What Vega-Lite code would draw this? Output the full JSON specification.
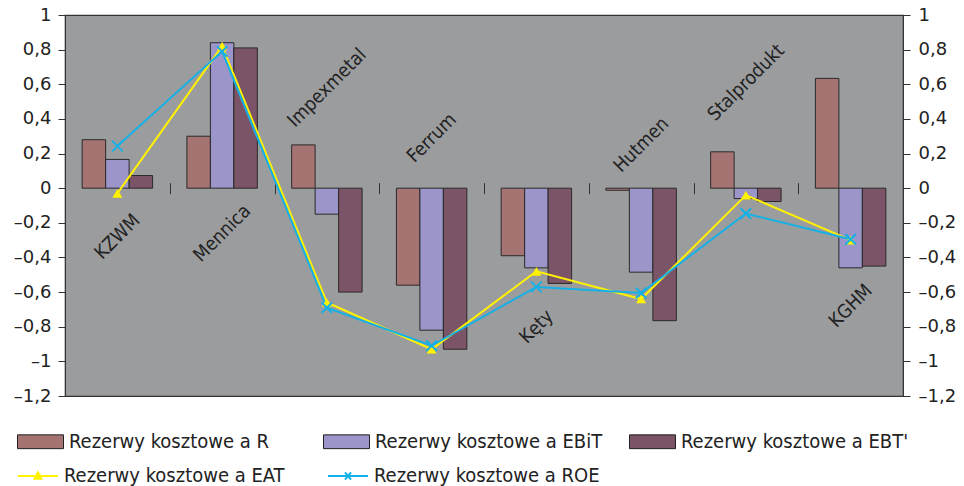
{
  "$schema": "https://vega.github.io/schema/vega-lite/v6.json",
  "width": 838,
  "height": 381,
  "autosize": {"type": "none"},
  "padding": {"left": 65, "top": 15, "right": 61, "bottom": 90},
  "background": "white",
  "config": {
    "view": {"fill": "#9B9C9E", "stroke": "#333333", "strokeWidth": 1.2},
    "axis": {"labelFont": "DejaVu Sans", "labelFontSize": 18, "labelColor": "#222222", "tickColor": "#333333", "domainColor": "#333333", "grid": false, "title": null},
    "legend": {"labelFont": "DejaVu Sans Condensed", "labelFontSize": 20, "labelColor": "#222222", "labelLimit": 400}
  },
  "datasets": {
    "bars": [
      {"cat": "KZWM", "series": "Rezerwy kosztowe a R", "value": 0.28},
      {"cat": "KZWM", "series": "Rezerwy kosztowe a EBiT", "value": 0.166},
      {"cat": "KZWM", "series": "Rezerwy kosztowe a EBT'", "value": 0.073},
      {"cat": "Mennica", "series": "Rezerwy kosztowe a R", "value": 0.30},
      {"cat": "Mennica", "series": "Rezerwy kosztowe a EBiT", "value": 0.84},
      {"cat": "Mennica", "series": "Rezerwy kosztowe a EBT'", "value": 0.81},
      {"cat": "Impexmetal", "series": "Rezerwy kosztowe a R", "value": 0.25},
      {"cat": "Impexmetal", "series": "Rezerwy kosztowe a EBiT", "value": -0.15},
      {"cat": "Impexmetal", "series": "Rezerwy kosztowe a EBT'", "value": -0.60},
      {"cat": "Ferrum", "series": "Rezerwy kosztowe a R", "value": -0.56},
      {"cat": "Ferrum", "series": "Rezerwy kosztowe a EBiT", "value": -0.82},
      {"cat": "Ferrum", "series": "Rezerwy kosztowe a EBT'", "value": -0.93},
      {"cat": "Kęty", "series": "Rezerwy kosztowe a R", "value": -0.39},
      {"cat": "Kęty", "series": "Rezerwy kosztowe a EBiT", "value": -0.46},
      {"cat": "Kęty", "series": "Rezerwy kosztowe a EBT'", "value": -0.55},
      {"cat": "Hutmen", "series": "Rezerwy kosztowe a R", "value": -0.012},
      {"cat": "Hutmen", "series": "Rezerwy kosztowe a EBiT", "value": -0.485},
      {"cat": "Hutmen", "series": "Rezerwy kosztowe a EBT'", "value": -0.765},
      {"cat": "Stalprodukt", "series": "Rezerwy kosztowe a R", "value": 0.21},
      {"cat": "Stalprodukt", "series": "Rezerwy kosztowe a EBiT", "value": -0.06},
      {"cat": "Stalprodukt", "series": "Rezerwy kosztowe a EBT'", "value": -0.077},
      {"cat": "KGHM", "series": "Rezerwy kosztowe a R", "value": 0.634},
      {"cat": "KGHM", "series": "Rezerwy kosztowe a EBiT", "value": -0.46},
      {"cat": "KGHM", "series": "Rezerwy kosztowe a EBT'", "value": -0.45}
    ],
    "lines": [
      {"cat": "KZWM", "series": "Rezerwy kosztowe a EAT", "value": -0.03},
      {"cat": "Mennica", "series": "Rezerwy kosztowe a EAT", "value": 0.82},
      {"cat": "Impexmetal", "series": "Rezerwy kosztowe a EAT", "value": -0.66},
      {"cat": "Ferrum", "series": "Rezerwy kosztowe a EAT", "value": -0.93},
      {"cat": "Kęty", "series": "Rezerwy kosztowe a EAT", "value": -0.48},
      {"cat": "Hutmen", "series": "Rezerwy kosztowe a EAT", "value": -0.64},
      {"cat": "Stalprodukt", "series": "Rezerwy kosztowe a EAT", "value": -0.04},
      {"cat": "KGHM", "series": "Rezerwy kosztowe a EAT", "value": -0.30},
      {"cat": "KZWM", "series": "Rezerwy kosztowe a ROE", "value": 0.243},
      {"cat": "Mennica", "series": "Rezerwy kosztowe a ROE", "value": 0.79},
      {"cat": "Impexmetal", "series": "Rezerwy kosztowe a ROE", "value": -0.69},
      {"cat": "Ferrum", "series": "Rezerwy kosztowe a ROE", "value": -0.91},
      {"cat": "Kęty", "series": "Rezerwy kosztowe a ROE", "value": -0.57},
      {"cat": "Hutmen", "series": "Rezerwy kosztowe a ROE", "value": -0.605},
      {"cat": "Stalprodukt", "series": "Rezerwy kosztowe a ROE", "value": -0.146},
      {"cat": "KGHM", "series": "Rezerwy kosztowe a ROE", "value": -0.295}
    ],
    "labels": [
      {"cat": "KZWM", "labelY": -0.28},
      {"cat": "Mennica", "labelY": -0.26},
      {"cat": "Impexmetal", "labelY": 0.58},
      {"cat": "Ferrum", "labelY": 0.29},
      {"cat": "Kęty", "labelY": -0.80},
      {"cat": "Hutmen", "labelY": 0.25},
      {"cat": "Stalprodukt", "labelY": 0.61},
      {"cat": "KGHM", "labelY": -0.68}
    ]
  },
  "encoding": {
    "x": {
      "field": "cat", "type": "nominal", "title": null,
      "scale": {"domain": ["KZWM", "Mennica", "Impexmetal", "Ferrum", "Kęty", "Hutmen", "Stalprodukt", "KGHM"], "paddingInner": 0, "paddingOuter": 0},
      "axis": {"domain": false, "labels": false, "ticks": true, "tickBand": "extent", "tickSize": 11, "offset": -213.3, "tickColor": "#333333", "title": null}
    }
  },
  "layer": [
    {
      "mark": {"type": "rule", "color": "#333333", "strokeWidth": 1.2},
      "encoding": {"y": {"datum": 0, "type": "quantitative", "scale": {"domain": [-1.2, 1], "nice": false}, "axis": null}}
    },
    {
      "data": {"name": "bars"},
      "mark": {"type": "bar", "stroke": "#2a2a2a", "strokeWidth": 1},
      "encoding": {
        "xOffset": {"field": "series", "type": "nominal", "scale": {"domain": ["Rezerwy kosztowe a R", "Rezerwy kosztowe a EBiT", "Rezerwy kosztowe a EBT'"], "paddingOuter": 0.73, "paddingInner": 0}},
        "y": {"field": "value", "type": "quantitative", "scale": {"domain": [-1.2, 1], "nice": false},
              "axis": {"orient": "left", "values": [-1.2, -1, -0.8, -0.6, -0.4, -0.2, 0, 0.2, 0.4, 0.6, 0.8, 1], "format": ".1~f",
                       "labelExpr": "replace(replace(datum.label, '.', ','), '−', '–')", "tickSize": 7, "labelPadding": 7, "title": null}},
        "fill": {"field": "series", "type": "nominal",
                 "scale": {"domain": ["Rezerwy kosztowe a R", "Rezerwy kosztowe a EBiT", "Rezerwy kosztowe a EBT'"], "range": ["#A67373", "#9C95C9", "#7C5467"]},
                 "legend": {"title": null, "orient": "none", "legendX": -48, "legendY": 403, "direction": "horizontal", "columns": 3, "gridAlign": "all", "columnPadding": 24,
                            "symbolType": "M-1,-0.3H1V0.3H-1Z", "symbolSize": 2116, "symbolStrokeColor": "#222222", "symbolStrokeWidth": 1, "labelOffset": 5, "symbolOpacity": 1}}
      }
    },
    {
      "data": {"name": "lines"},
      "mark": {"type": "line", "strokeWidth": 2},
      "encoding": {
        "y": {"field": "value", "type": "quantitative", "axis": null},
        "stroke": {"field": "series", "type": "nominal",
                   "scale": {"domain": ["Rezerwy kosztowe a EAT", "Rezerwy kosztowe a ROE"], "range": ["#FFF200", "#14B1E7"]},
                   "legend": {"title": null, "orient": "none", "legendX": -48, "legendY": 440, "direction": "horizontal", "columns": 2, "gridAlign": "all", "columnPadding": 34,
                              "symbolSize": 1600, "symbolStrokeWidth": 2, "labelOffset": 5,
                              "encode": {"symbols": {"update": {
                                "shape": {"signal": "datum.value === 'Rezerwy kosztowe a EAT' ? 'M-1,0H1M0,-0.18L0.17,0.14H-0.17Z' : 'M-1,0H1M-0.15,-0.18L0.15,0.18M-0.15,0.18L0.15,-0.18'"},
                                "fill": {"signal": "datum.value === 'Rezerwy kosztowe a EAT' ? '#FFF200' : 'transparent'"}
                              }}}}}
      }
    },
    {
      "data": {"name": "lines"},
      "transform": [{"filter": "datum.series === 'Rezerwy kosztowe a EAT'"}],
      "mark": {"type": "point", "shape": "triangle-up", "filled": true, "color": "#FFF200", "size": 100, "opacity": 1},
      "encoding": {"y": {"field": "value", "type": "quantitative", "axis": null}}
    },
    {
      "data": {"name": "lines"},
      "transform": [{"filter": "datum.series === 'Rezerwy kosztowe a ROE'"}],
      "mark": {"type": "point", "shape": "M-1,-1L1,1M-1,1L1,-1", "filled": false, "stroke": "#14B1E7", "strokeWidth": 2, "size": 110, "opacity": 1},
      "encoding": {"y": {"field": "value", "type": "quantitative", "axis": null}}
    },
    {
      "data": {"name": "labels"},
      "mark": {"type": "text", "angle": -45, "align": "center", "baseline": "middle", "font": "DejaVu Sans Condensed", "fontSize": 19, "color": "#222222"},
      "encoding": {
        "y": {"field": "labelY", "type": "quantitative",
              "axis": {"orient": "right", "values": [-1.2, -1, -0.8, -0.6, -0.4, -0.2, 0, 0.2, 0.4, 0.6, 0.8, 1], "format": ".1~f",
                       "labelExpr": "replace(replace(datum.label, '.', ','), '−', '–')", "tickSize": 7, "labelPadding": 8, "title": null}},
        "text": {"field": "cat"}
      }
    }
  ],
  "resolve": {"axis": {"y": "independent"}}
}
